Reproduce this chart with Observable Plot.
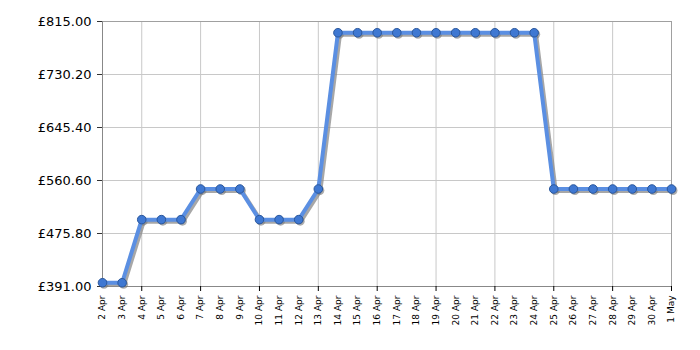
<!DOCTYPE html>
<html>
<head>
<meta charset="utf-8">
<script src="https://cdn.jsdelivr.net/npm/d3@7"></script>
<script src="https://cdn.jsdelivr.net/npm/@observablehq/plot@0.6"></script>
<style>
  html, body { margin: 0; padding: 0; background: #fff; }
  #chart svg { display: block; }
</style>
</head>
<body>
<div id="chart"></div>
<script>
const days = ["2 Apr","3 Apr","4 Apr","5 Apr","6 Apr","7 Apr","8 Apr","9 Apr","10 Apr","11 Apr","12 Apr","13 Apr","14 Apr","15 Apr","16 Apr","17 Apr","18 Apr","19 Apr","20 Apr","21 Apr","22 Apr","23 Apr","24 Apr","25 Apr","26 Apr","27 Apr","28 Apr","29 Apr","30 Apr","1 May"];
const prices = [396.99,396.99,497.99,497.99,497.99,546.99,546.99,546.99,497.99,497.99,497.99,546.99,796.99,796.99,796.99,796.99,796.99,796.99,796.99,796.99,796.99,796.99,796.99,546.99,546.99,546.99,546.99,546.99,546.99,546.99];
const yTicks = [391, 475.8, 560.6, 645.4, 730.2, 815];
const gridDays = ["4 Apr","7 Apr","10 Apr","13 Apr","16 Apr","19 Apr","22 Apr","25 Apr","28 Apr","1 May"];

const data = days.map((d, i) => ({i, day: d, price: prices[i]}));
const dayIdx = days.map((d, i) => i);
const gridIdx = gridDays.map(d => days.indexOf(d));

const chart = Plot.plot({
  width: 700,
  height: 350,
  marginLeft: 102,
  marginRight: 29,
  marginTop: 21,
  marginBottom: 64,
  style: {fontFamily: "DejaVu Sans, Verdana, sans-serif", color: "#000", background: "#fff"},
  x: {type: "linear", domain: [0, days.length - 1]},
  y: {domain: [391, 815]},
  marks: [
    Plot.ruleY(yTicks, {stroke: "#c8c8c8", strokeWidth: 1}),
    Plot.ruleX(gridIdx, {stroke: "#c8c8c8", strokeWidth: 1}),
    Plot.frame({stroke: "#a0a0a0"}),
    Plot.ruleX([0], {stroke: "#888"}),
    Plot.ruleY([391], {stroke: "#888"}),
    Plot.axisY({ticks: yTicks, tickFormat: d => "£" + d.toFixed(2), tickSize: 5, tickPadding: 6, fontSize: 13, label: null, stroke: "#333"}),
    Plot.axisX({ticks: gridIdx, tickSize: 5, tickFormat: () => "", label: null, stroke: "#000"}),
    Plot.axisX({ticks: dayIdx, tickSize: 0, tickRotate: -90, tickPadding: 9, fontSize: 9, tickFormat: i => days[i], label: null}),
    Plot.lineY(data, {x: "i", y: "price", stroke: "#8a8a8a", strokeWidth: 4, strokeOpacity: 0.75, dx: 2, dy: 2}),
    Plot.dot(data, {x: "i", y: "price", r: 4.5, fill: "#777", fillOpacity: 0.6, dx: 1.5, dy: 1.5}),
    Plot.lineY(data, {x: "i", y: "price", stroke: "#5b8fe2", strokeWidth: 4}),
    Plot.dot(data, {x: "i", y: "price", r: 4.3, fill: "#3f78d2", stroke: "#2a579c", strokeWidth: 1})
  ]
});

document.getElementById("chart").appendChild(chart);
</script>
</body>
</html>
